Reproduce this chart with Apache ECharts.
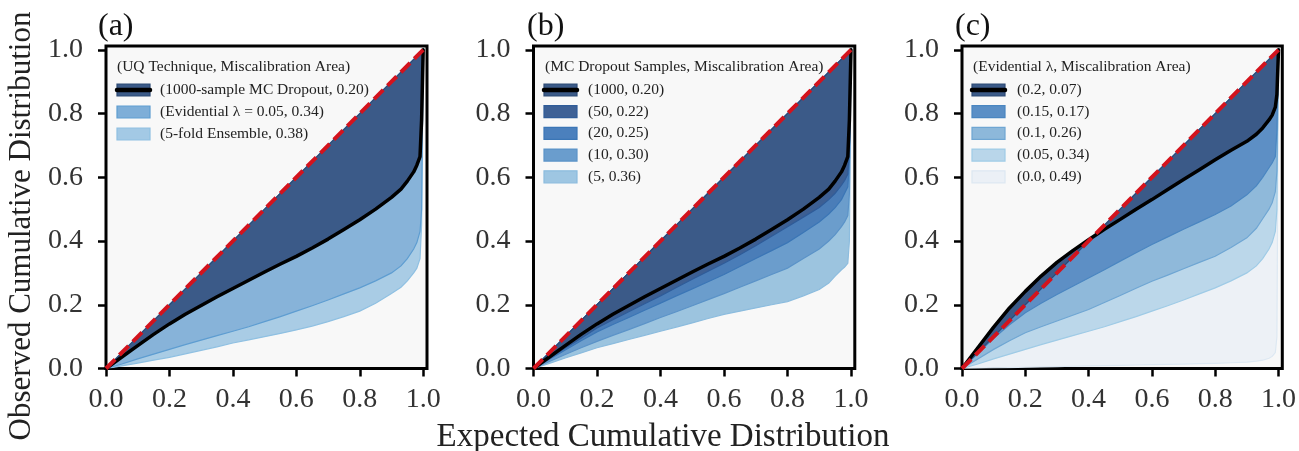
<!DOCTYPE html>
<html>
<head>
<meta charset="utf-8">
<script src="https://cdn.jsdelivr.net/npm/echarts@6/dist/echarts.min.js"></script>
<style>html,body{margin:0;padding:0;background:#fff}#c{width:1299px;height:451px}</style>
</head>
<body>
<div id="c"></div>
<script>
// ---------- data ----------
const xs = [0, 0.05, 0.1, 0.15, 0.2, 0.25, 0.3, 0.35, 0.4, 0.45, 0.5, 0.55, 0.6, 0.65, 0.7, 0.75, 0.8, 0.85, 0.9, 0.93, 0.95, 0.97, 0.98, 0.99, 0.995, 1.0];
const diagonal = [0, 1];
const tickVals = [0, 0.2, 0.4, 0.6, 0.8, 1.0];
const tickLabels = ['0.0', '0.2', '0.4', '0.6', '0.8', '1.0'];

// panel (a)
const mc1000 = [0, .036, .072, .107, .14, .17, .198, .225, .251, .277, .303, .328, .352, .378, .406, .436, .467, .5, .537, .563, .588, .617, .638, .665, .78, 1.0];
const ev005  = [0, .014, .03, .045, .06, .075, .089, .103, .117, .131, .147, .163, .18, .197, .215, .234, .253, .275, .3, .322, .345, .375, .395, .43, .5, 1.0];
const ens5   = [0, .008, .017, .026, .035, .046, .057, .068, .08, .09, .1, .11, .121, .133, .147, .163, .18, .205, .235, .255, .275, .3, .315, .345, .45, 1.0];
// panel (b)
const mc50 = [0, .032, .064, .095, .127, .153, .178, .203, .228, .254, .28, .305, .33, .357, .385, .415, .445, .475, .505, .53, .55, .575, .59, .61, .7, 1.0];
const mc20 = [0, .029, .058, .087, .115, .138, .16, .183, .205, .228, .25, .272, .295, .32, .345, .37, .395, .427, .46, .485, .505, .53, .55, .57, .65, 1.0];
const mc10 = [0, .022, .044, .065, .085, .104, .122, .141, .16, .178, .197, .216, .235, .255, .275, .295, .315, .345, .375, .4, .42, .445, .46, .48, .55, 1.0];
const mc5  = [0, .016, .033, .049, .065, .078, .091, .104, .117, .13, .143, .157, .17, .18, .19, .2, .21, .228, .248, .268, .29, .31, .318, .33, .4, 1.0];
// panel (c)
const ev020 = [0, .065, .13, .19, .242, .29, .333, .37, .404, .437, .468, .5, .53, .562, .593, .624, .655, .685, .713, .735, .755, .78, .795, .82, .86, 1.0];
const ev015 = [0, .048, .095, .137, .175, .205, .232, .258, .284, .31, .337, .363, .389, .413, .437, .46, .483, .51, .545, .573, .6, .63, .645, .665, .75, 1.0];
const ev010 = [0, .03, .06, .087, .112, .131, .149, .167, .185, .207, .229, .252, .274, .293, .313, .333, .352, .38, .41, .44, .47, .5, .52, .555, .62, 1.0];
const ev000 = [0, .001, .002, .003, .004, .005, .006, .007, .008, .009, .01, .011, .012, .013, .014, .015, .016, .018, .02, .023, .026, .032, .038, .05, .1, 1.0];

const panelLabels = ['(a)', '(b)', '(c)'];
const legendTitles = ['(UQ Technique, Miscalibration Area)', '(MC Dropout Samples, Miscalibration Area)', '(Evidential \u03bb, Miscalibration Area)'];
const namesA = ['(1000-sample MC Dropout, 0.20)', '(Evidential \u03bb = 0.05, 0.34)', '(5-fold Ensemble, 0.38)'];
const namesB = ['(1000, 0.20)', '(50, 0.22)', '(20, 0.25)', '(10, 0.30)', '(5, 0.36)'];
const namesC = ['(0.2, 0.07)', '(0.15, 0.17)', '(0.1, 0.26)', '(0.05, 0.34)', '(0.0, 0.49)'];
const xTitle = 'Expected Cumulative Distribution';
const yTitle = 'Observed Cumulative Distribution';

// ---------- styling ----------
const FONT = "'Liberation Serif', 'Times New Roman', serif";
const NAVY = '#3b5a88';
const panels = [
  { curves: [mc1000, ev005, ens5], names: namesA,
    fills: [NAVY, '#87b3d9', '#a9cce5'], strokes: ['#2d4a75', '#5e9dd1', '#8fc0e2'],
    patches: [NAVY, '#7eaed8', '#a3c9e5'], patchBorders: ['#2d4a75', '#5e9dd1', '#8fc0e2'],
    legend: { hx: 117, sx: 117, tx: 160, rows: [90, 112, 134] } },
  { curves: [mc1000, mc50, mc20, mc10, mc5], names: namesB,
    fills: [NAVY, '#3d5f93', '#4a7db8', '#6b9dcc', '#9cc4df'], strokes: ['#2d4a75', '#2f5c99', '#3b76b6', '#5b93c8', '#8cbcde'],
    patches: [NAVY, '#3e6196', '#4b80bd', '#6a9dcd', '#9ec6e2'], patchBorders: ['#2d4a75', '#2f5c99', '#3b76b6', '#5b93c8', '#8cbcde'],
    legend: { hx: 545, sx: 544, tx: 588, rows: [90, 111.7, 133.4, 155.1, 176.8] } },
  { curves: [ev020, ev015, ev010, ev005, ev000], names: namesC,
    fills: [NAVY, '#5d8fc5', '#8fb9da', '#bbd7ea', '#edf1f6'], strokes: ['#2d4a75', '#4a86c1', '#6fa6d3', '#9fcbe6', '#dde8f2'],
    patches: [NAVY, '#5b8fc6', '#8db8da', '#b9d6ea', '#ebf0f6'], patchBorders: ['#2d4a75', '#4a86c1', '#6fa6d3', '#9fcbe6', '#dde8f2'],
    legend: { hx: 973, sx: 972, tx: 1017, rows: [90, 111.7, 133.4, 155.1, 176.8] } }
];
const gridPos = [
  { left: 106, top: 46, width: 321, height: 322.5 },
  { left: 533.5, top: 46, width: 321.3, height: 322.5 },
  { left: 962, top: 46, width: 321, height: 322.5 }
];
const labelX = [98, 527, 955];

const fmt = v => { const i = tickVals.findIndex(t => Math.abs(t - v) < 1e-6); return i >= 0 ? tickLabels[i] : ''; };

const grids = [], xAxes = [], yAxes = [], series = [], graphics = [];
panels.forEach((p, gi) => {
  grids.push(Object.assign({ show: true, backgroundColor: '#f8f8f8', borderColor: '#000', borderWidth: 3, z: 0 }, gridPos[gi]));
  const axisCommon = {
    type: 'value', gridIndex: gi, min: 0, max: 1.012,
    axisLine: { show: false }, splitLine: { show: false },
    axisTick: { show: true, length: 8, lineStyle: { color: '#000', width: 2.5 }, customValues: tickVals },
    axisLabel: { customValues: tickVals, formatter: fmt, fontFamily: FONT, fontSize: 28, color: '#333' }
  };
  xAxes.push(Object.assign({}, axisCommon, { axisLabel: Object.assign({}, axisCommon.axisLabel, { margin: 17 }) }));
  yAxes.push(Object.assign({}, axisCommon, { axisLabel: Object.assign({}, axisCommon.axisLabel, { margin: 23 }) }));

  // bands: draw from largest miscalibration (bottom) to smallest (top)
  for (let k = p.curves.length - 1; k >= 0; k--) {
    const ys = p.curves[k], fill = p.fills[k], stroke = p.strokes[k];
    series.push({
      type: 'custom', name: p.names[k], xAxisIndex: gi, yAxisIndex: gi, z: 2 + (p.curves.length - k),
      coordinateSystem: 'cartesian2d', data: [[0, 0]], encode: { x: 0, y: 1 }, silent: true, clip: true,
      renderItem: (params, api) => {
        const pts = xs.map((x, i) => api.coord([x, ys[i]]));
        const diag = xs.map(x => api.coord([x, x])).reverse();
        return { type: 'polygon', shape: { points: pts.concat(diag) }, style: { fill: fill, stroke: stroke, lineWidth: 1.2 } };
      }
    });
  }
  // black line for best curve
  series.push({
    type: 'line', xAxisIndex: gi, yAxisIndex: gi, z: 20, silent: true, symbol: 'none',
    data: xs.map((x, i) => [x, p.curves[0][i]]),
    lineStyle: { color: '#000', width: 3.5, cap: 'round', join: 'round' }
  });
  // red dashed diagonal (perfect calibration)
  series.push({
    type: 'line', xAxisIndex: gi, yAxisIndex: gi, z: 30, silent: true, symbol: 'none',
    data: diagonal.map(v => [v, v]),
    lineStyle: { color: '#d3131d', width: 4, type: [13, 6] }
  });

  // legend (drawn)
  const L = p.legend;
  graphics.push({ type: 'text', x: L.hx, y: 67, z: 50, style: { text: legendTitles[gi], font: `15.5px ${FONT}`, fill: '#222', textVerticalAlign: 'middle', verticalAlign: 'middle' } });
  p.names.forEach((nm, k) => {
    const ry = L.rows[k];
    graphics.push({ type: 'rect', z: 50, shape: { x: L.sx, y: ry - 6, width: 33, height: 12 }, style: { fill: p.patches[k], stroke: p.patchBorders[k], lineWidth: 1.2 } });
    if (k === 0) graphics.push({ type: 'line', z: 51, shape: { x1: L.sx, y1: ry, x2: L.sx + 33, y2: ry }, style: { stroke: '#000', lineWidth: 4.5, lineCap: 'round' } });
    graphics.push({ type: 'text', x: L.tx, y: ry, z: 50, style: { text: nm, font: `15.5px ${FONT}`, fill: '#222', verticalAlign: 'middle', textVerticalAlign: 'middle' } });
  });
  graphics.push({ type: 'text', x: labelX[gi], y: 27, z: 50, style: { text: panelLabels[gi], font: `32px ${FONT}`, fill: '#111', verticalAlign: 'middle', textVerticalAlign: 'middle' } });
});

graphics.push({ type: 'text', x: 663, y: 437, z: 50, style: { text: xTitle, font: `33px ${FONT}`, fill: '#222', align: 'center', textAlign: 'center', verticalAlign: 'middle', textVerticalAlign: 'middle' } });
graphics.push({ type: 'text', x: 22, y: 226, rotation: Math.PI / 2, z: 50, style: { text: yTitle, font: `31px ${FONT}`, fill: '#222', align: 'center', textAlign: 'center', verticalAlign: 'middle', textVerticalAlign: 'middle' } });

const chart = echarts.init(document.getElementById('c'), null, { renderer: 'canvas' });
chart.setOption({
  animation: false,
  backgroundColor: '#ffffff',
  grid: grids, xAxis: xAxes, yAxis: yAxes, series: series,
  graphic: graphics
});
</script>
</body>
</html>
